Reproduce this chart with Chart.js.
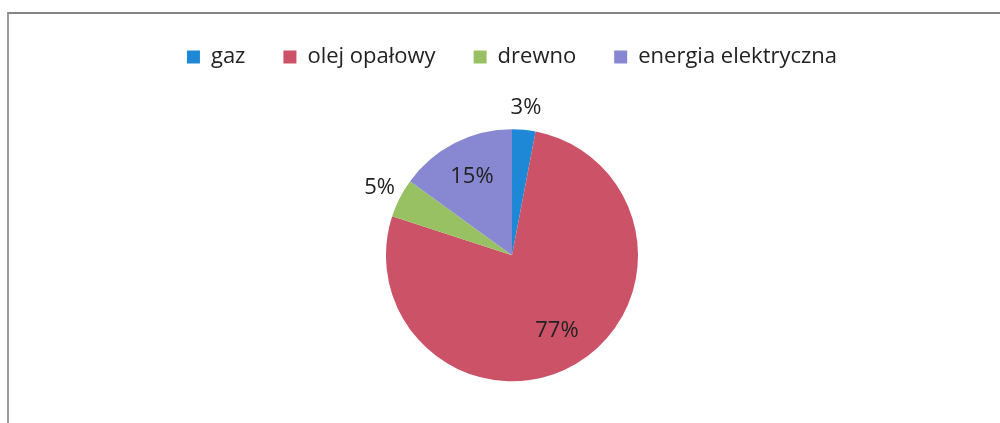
<!DOCTYPE html>
<html>
<head>
<meta charset="utf-8">
<script src="https://cdn.jsdelivr.net/npm/chart.js@4/dist/chart.umd.min.js"></script>
<style>
  html, body { margin: 0; padding: 0; background: #fff; }
  #wrap { position: relative; width: 1000px; height: 423px; overflow: hidden; }
  #frame { position: absolute; left: 7px; top: 12px; width: 1000px; height: 420px;
           border-top: 2px solid #858585; border-left: 2px solid #9a9a9a; }
  canvas { position: absolute; left: 0; top: 0; }
</style>
</head>
<body>
<div id="wrap">
  <div id="frame"></div>
  <canvas id="chart" width="1000" height="423"></canvas>
</div>
<script>
const categories = ['gaz', 'olej opałowy', 'drewno', 'energia elektryczna'];
const shares = [3, 77, 5, 15];
const sliceColors = ['#1f88d6', '#cb5267', '#98c164', '#8887d2'];

const FONT = '"Open Sans", "Noto Sans", sans-serif';

// slices too small for text inside get their label outside, like Excel's best fit
const pieLabels = {
  id: 'pieLabels',
  afterDatasetsDraw(chart) {
    const ctx = chart.ctx;
    const meta = chart.getDatasetMeta(0);
    const total = shares.reduce((a, b) => a + b, 0);
    ctx.save();
    ctx.font = '22px ' + FONT;
    ctx.fillStyle = '#222';
    ctx.textAlign = 'center';
    ctx.textBaseline = 'middle';
    meta.data.forEach((arc, i) => {
      const p = arc.getProps(['x', 'y', 'startAngle', 'endAngle', 'outerRadius'], true);
      const mid = (p.startAngle + p.endAngle) / 2;
      const pct = shares[i] / total * 100;
      const r = p.outerRadius * (pct < 8 ? 1.18 : 0.7);
      ctx.fillText(Math.round(pct) + '%', p.x + Math.cos(mid) * r, p.y + Math.sin(mid) * r);
    });
    ctx.restore();
  }
};

new Chart(document.getElementById('chart').getContext('2d'), {
  type: 'pie',
  data: {
    labels: categories,
    datasets: [{
      data: shares,
      backgroundColor: sliceColors,
      borderWidth: 0,
      radius: 126,
    }],
  },
  options: {
    responsive: false,
    animation: false,
    layout: {
      padding: { top: 8, bottom: 0, left: 24, right: 0 },
    },
    plugins: {
      legend: {
        position: 'top',
        labels: {
          boxWidth: 13,
          boxHeight: 13,
          padding: 38,
          color: '#222',
          font: { family: FONT, size: 22 },
        },
      },
      // empty spacer between legend and pie
      subtitle: {
        display: true,
        text: '',
        weight: 500,
        padding: 0,
        font: { size: 8 },
      },
      tooltip: { enabled: false },
    },
  },
  plugins: [pieLabels],
});
</script>
</body>
</html>
